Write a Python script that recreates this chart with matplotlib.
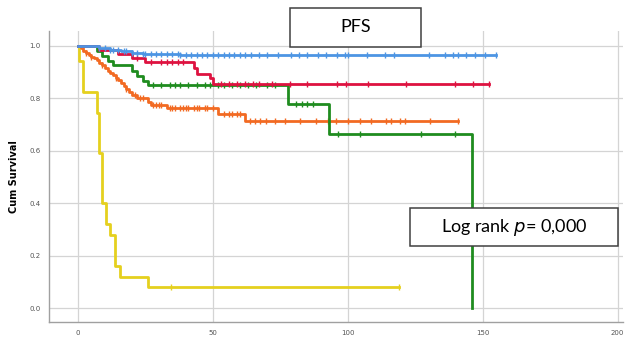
import numpy as np
import matplotlib
matplotlib.use('Agg')
import matplotlib.pyplot as plt
from matplotlib.patches import Rectangle

# ---- Kaplan-Meier steps (event time, survival after it) + censor times ----
blue_t = [0, 8, 12, 16, 20, 24, 30, 38]
blue_s = [1.0, 0.992, 0.985, 0.978, 0.973, 0.969, 0.967, 0.965]
blue_end = 155
blue_cens = [8, 10, 12, 13, 15, 17, 18, 20, 22, 24, 25, 27, 29, 31, 33, 35, 37, 38,
             40, 42, 44, 46, 48, 50, 52, 54, 56, 58, 60, 62, 64, 67, 70, 74, 79, 82,
             85, 89, 92, 96, 99, 100, 107, 114, 117, 130, 136, 139, 141, 144, 147,
             151, 155]

red_t = [0, 8, 15, 20, 25, 43, 44, 49, 50]
red_s = [1.0, 0.985, 0.97, 0.955, 0.938, 0.915, 0.894, 0.875, 0.854]
red_end = 152.5
red_cens = [22, 27, 31, 33, 35, 37, 39, 53, 56, 59, 62, 65, 67, 72, 78.5, 85, 96,
            99.5, 107.5, 121.7, 139.6, 146.4, 152.5]

green_t = [0, 7, 9, 11, 13, 20, 22, 24, 26, 78, 93, 146]
green_s = [1.0, 0.98, 0.96, 0.94, 0.925, 0.905, 0.885, 0.865, 0.85, 0.777, 0.664, 0.0]
green_end = 146
green_cens = [28, 31, 34, 36, 38, 41, 44, 47, 49, 52, 54, 57, 60, 63, 66, 70, 73,
              81, 83, 85, 87, 96.4, 104.4, 127.3, 139.6]

orange_t = [0, 1, 2, 3, 4, 5, 6, 7, 8, 9, 10, 11, 12, 13, 14, 15, 16, 17, 18, 19,
            20, 22, 26, 27, 33, 52, 62]
orange_s = [1.0, 0.99, 0.98, 0.972, 0.965, 0.958, 0.952, 0.944, 0.935, 0.925, 0.915,
            0.905, 0.896, 0.888, 0.878, 0.868, 0.858, 0.847, 0.836, 0.824, 0.812,
            0.80, 0.785, 0.773, 0.764, 0.74, 0.712]
orange_end = 141
orange_cens = [3, 5, 9, 14, 18, 21, 23, 24, 28, 29, 30, 31, 34, 35, 36, 38, 39, 40,
               41, 43, 44, 45, 47, 48, 50, 54, 56, 57, 59, 60, 63.7, 65.6, 67.4,
               69.9, 73, 76.7, 82.2, 88.4, 92.7, 95.8, 100.1, 104.4, 108.8, 114.3,
               116.2, 119.3, 121.1, 130.4, 141]

yellow_t = [0, 0.3, 2, 7, 8, 9, 10.6, 12, 13.7, 15.8, 26]
yellow_s = [1.0, 0.94, 0.825, 0.745, 0.59, 0.40, 0.32, 0.28, 0.16, 0.12, 0.08]
yellow_end = 119
yellow_cens = [34.7, 119]

groups = [
    (yellow_t, yellow_s, yellow_end, yellow_cens, '#e5d01e'),
    (orange_t, orange_s, orange_end, orange_cens, '#f26a22'),
    (green_t, green_s, green_end, green_cens, '#1f8c1f'),
    (red_t, red_s, red_end, red_cens, '#de1240'),
    (blue_t, blue_s, blue_end, blue_cens, '#4d95e3'),
]

fig = plt.figure(figsize=(6.44, 3.37), dpi=100)
ax = fig.add_axes([0.0756, 0.0445, 0.8917, 0.8635])

for t, s, end, cens, col in groups:
    tt = list(t) + [end]
    ss = list(s) + [s[-1]]
    ax.plot(tt, ss, drawstyle='steps-post', color=col, lw=2.0, zorder=3)
    idx = np.searchsorted(np.array(t), np.array(cens), side='right') - 1
    cs = np.array(s)[idx]
    ax.plot(cens, cs, ls='none', marker='|', ms=5, mew=1.0, color=col, zorder=3)

ax.set_xlim(-10.8, 202)
ax.set_ylim(-0.053, 1.056)
ax.set_xticks([0, 50, 100, 150, 200])
ax.set_yticks([0.0, 0.2, 0.4, 0.6, 0.8, 1.0])
ax.set_yticklabels(['0.0', '0.2', '0.4', '0.6', '0.8', '1.0'])
ax.tick_params(length=0, labelsize=5, colors='#555555', pad=6)
ax.grid(True, color='#d4d4d4', lw=0.9)
ax.set_axisbelow(True)
for side in ['top', 'right']:
    ax.spines[side].set_visible(False)
for side in ['left', 'bottom']:
    ax.spines[side].set_color('#a0a0a0')
    ax.spines[side].set_linewidth(1.0)
ax.set_ylabel('Cum Survival', fontsize=7, fontweight='bold', labelpad=7)

# text boxes (figure pixels)
W, H = 644, 337
def box(x0, y0, x1, y1, txt):
    r = Rectangle((x0 / W, 1 - y1 / H), (x1 - x0) / W, (y1 - y0) / H,
                  transform=fig.transFigure, facecolor='white',
                  edgecolor='#404040', lw=1.1, zorder=10)
    fig.patches.append(r)
    fig.text((x0 + x1) / 2 / W, 1 - (y0 + y1) / 2 / H, txt, ha='center',
             va='center', fontsize=13, family='Lato', zorder=11)

box(290, 8, 421, 47, 'PFS')
box(410, 208, 618, 246, 'Log rank $\\it{p}$= 0,000')

fig.savefig('out.png', dpi=100)
